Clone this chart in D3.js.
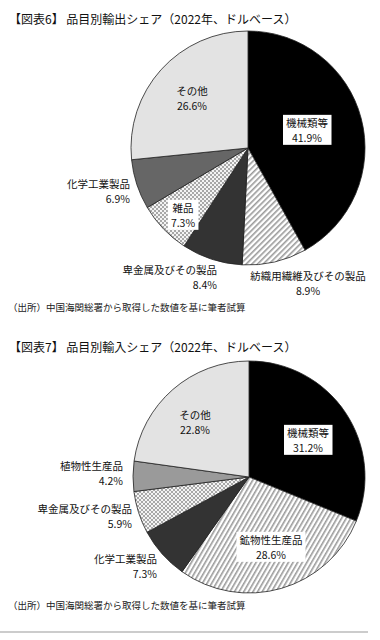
<!DOCTYPE html>
<html><head><meta charset="utf-8">
<script src="https://cdn.jsdelivr.net/npm/d3@7"></script>
<style>
body{margin:0;background:#fff;}
svg{display:block;font-family:"Noto Sans CJK JP","Noto Sans",sans-serif;}
</style></head>
<body>
<svg id="c" width="380" height="640"></svg>
<script>
// Chart 6: exports
const exportCategories = ["機械類等","紡織用繊維及びその製品","卑金属及びその製品","雑品","化学工業製品","その他"];
const exportValues = [41.9, 8.9, 8.4, 7.3, 6.9, 26.6];
const exportFills = ["black","hatch45","dark","check","mid","light"];
// Chart 7: imports
const importCategories = ["機械類等","鉱物性生産品","化学工業製品","卑金属及びその製品","植物性生産品","その他"];
const importValues = [31.2, 28.6, 7.3, 5.9, 4.2, 22.8];
const importFills = ["black","hatch60","dark","check","gray","light"];

const titles = ["【図表6】 品目別輸出シェア（2022年、ドルベース）","【図表7】 品目別輸入シェア（2022年、ドルベース）"];
const sourceText = "（出所）中国海関総署から取得した数値を基に筆者試算";

const svg = d3.select("#c");
const defs = svg.append("defs");
function hatch(id, angle){
  const p = defs.append("pattern").attr("id",id).attr("patternUnits","userSpaceOnUse")
    .attr("width",4).attr("height",4).attr("patternTransform","rotate("+angle+")");
  p.append("rect").attr("width",4).attr("height",4).attr("fill","#fff");
  p.append("rect").attr("x",0).attr("width",1.6).attr("height",4).attr("fill","#9a9a9a");
}
hatch("hatch45",45);
hatch("hatch60",30);
const ck = defs.append("pattern").attr("id","check").attr("patternUnits","userSpaceOnUse").attr("width",4).attr("height",4);
ck.append("rect").attr("width",4).attr("height",4).attr("fill","#f4f4f4");
ck.append("rect").attr("width",2).attr("height",2).attr("fill","#a8a8a8");
ck.append("rect").attr("x",2).attr("y",2).attr("width",2).attr("height",2).attr("fill","#a8a8a8");

const fillMap = {black:"#000",dark:"#333",mid:"#666",gray:"#9a9a9a",light:"#e3e3e3",
  hatch45:"url(#hatch45)",hatch60:"url(#hatch60)",check:"url(#check)"};

// label placement: [x, y, anchor, box]
const exportLabels = [[307,124,"middle",true],[308,277,"middle",false],[217,271,"end",false],[183,209,"middle",true],[130,185,"end",false],[192,92,"middle",false]];
const importLabels = [[308,434,"middle",true],[271,541,"middle",true],[157,560,"end",false],[132,510,"end",false],[123,467,"end",false],[195,416,"middle",false]];

function drawPie(cx, cy, r, cats, vals, fills, labels, titleY, title, srcY){
  svg.append("text").attr("x",9).attr("y",titleY).attr("font-size",12).attr("fill","#111").text(title);
  const data = cats.map((c,i)=>({cat:c,val:vals[i],fill:fills[i],lab:labels[i]}));
  const pie = d3.pie().sort(null).value(d=>d.val);
  const arc = d3.arc().innerRadius(0).outerRadius(r);
  const g = svg.append("g").attr("transform",`translate(${cx},${cy})`);
  g.selectAll("path").data(pie(data)).join("path")
    .attr("d",arc).attr("fill",d=>fillMap[d.data.fill]).attr("stroke","#222").attr("stroke-width",0.8);
  data.forEach(d=>{
    const [x,y,anchor,box] = d.lab;
    const lg = svg.append("g");
    const t1 = lg.append("text").attr("x",x).attr("y",y).attr("text-anchor",anchor).attr("font-size",10.5).attr("dominant-baseline","middle").attr("fill","#111").text(d.cat);
    const t2 = lg.append("text").attr("x",x).attr("y",y+15).attr("text-anchor",anchor).attr("font-size",10.5).attr("dominant-baseline","middle").attr("fill","#111").text(d.val.toFixed(1)+"%");
    if(box){
      const b1=t1.node().getBBox(), b2=t2.node().getBBox();
      const x0=Math.min(b1.x,b2.x)-3, x1=Math.max(b1.x+b1.width,b2.x+b2.width)+3;
      lg.insert("rect","text").attr("x",x0).attr("y",b1.y).attr("width",x1-x0).attr("height",b2.y+b2.height-b1.y).attr("fill","#fff");
    }
  });
  svg.append("text").attr("x",8).attr("y",srcY).attr("font-size",9.5).attr("fill","#222").text(sourceText);
}
drawPie(248,148,117,exportCategories,exportValues,exportFills,exportLabels,24,titles[0],311);
drawPie(249,477,116,importCategories,importValues,importFills,importLabels,352,titles[1],609);
svg.append("line").attr("x1",0).attr("x2",368).attr("y1",632).attr("y2",632).attr("stroke","#999").attr("stroke-width",1);
</script>
</body></html>
